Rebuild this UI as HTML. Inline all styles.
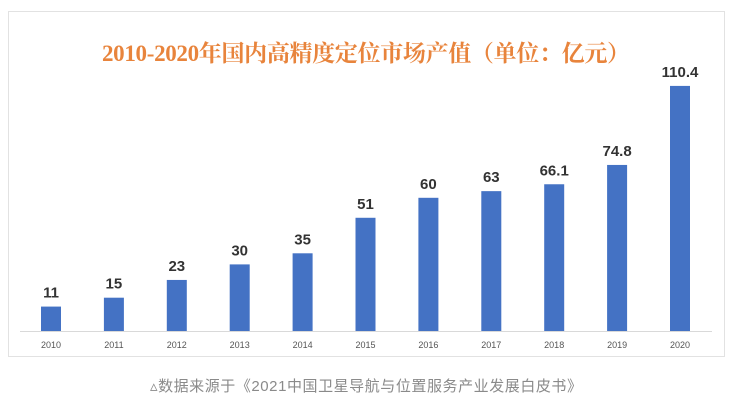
<!DOCTYPE html><html><head><meta charset="utf-8"><style>
body{margin:0;width:733px;height:400px;background:#fff;overflow:hidden;font-family:"Liberation Sans","Noto Sans CJK SC",sans-serif}
</style></head><body>
<svg width="733" height="400" xmlns="http://www.w3.org/2000/svg" style="position:absolute;left:0;top:0">
<rect x="8.5" y="11.5" width="716" height="345" fill="#fff" stroke="#e2e2e2"/>
<text x="366" y="61" text-anchor="middle" font-size="23" font-weight="bold" fill="#E8843C" font-family="Liberation Serif,Noto Serif CJK SC,serif" textLength="528">2010-2020年国内高精度定位市场产值（单位：亿元）</text>
<line x1="20" y1="331.5" x2="712" y2="331.5" stroke="#d9d9d9"/>
<g fill="#4472C4" id="b"></g>
<g id="t" font-weight="bold" font-size="15" fill="#333" text-anchor="middle"></g>
<g id="y" font-size="9" fill="#555" text-anchor="middle"></g>
<text x="366" y="391" text-anchor="middle" font-size="15" fill="#8a8a8a" textLength="432">▵数据来源于《2021中国卫星导航与位置服务产业发展白皮书》</text>
</svg>
<script>
var v=[11,15,23,30,35,51,60,63,66.1,74.8,110.4],ns="http://www.w3.org/2000/svg";
v.forEach(function(d,i){var cx=51+i*62.9,h=d*2.22,top=331-h;
var r=document.createElementNS(ns,"rect");r.setAttribute("x",cx-10);r.setAttribute("y",top);r.setAttribute("width",20);r.setAttribute("height",h);document.getElementById("b").appendChild(r);
var t=document.createElementNS(ns,"text");t.setAttribute("x",cx);t.setAttribute("y",top-9);t.textContent=d;document.getElementById("t").appendChild(t);
var y=document.createElementNS(ns,"text");y.setAttribute("x",cx);y.setAttribute("y",348);y.textContent=2010+i;document.getElementById("y").appendChild(y);});
</script>
</body></html>
